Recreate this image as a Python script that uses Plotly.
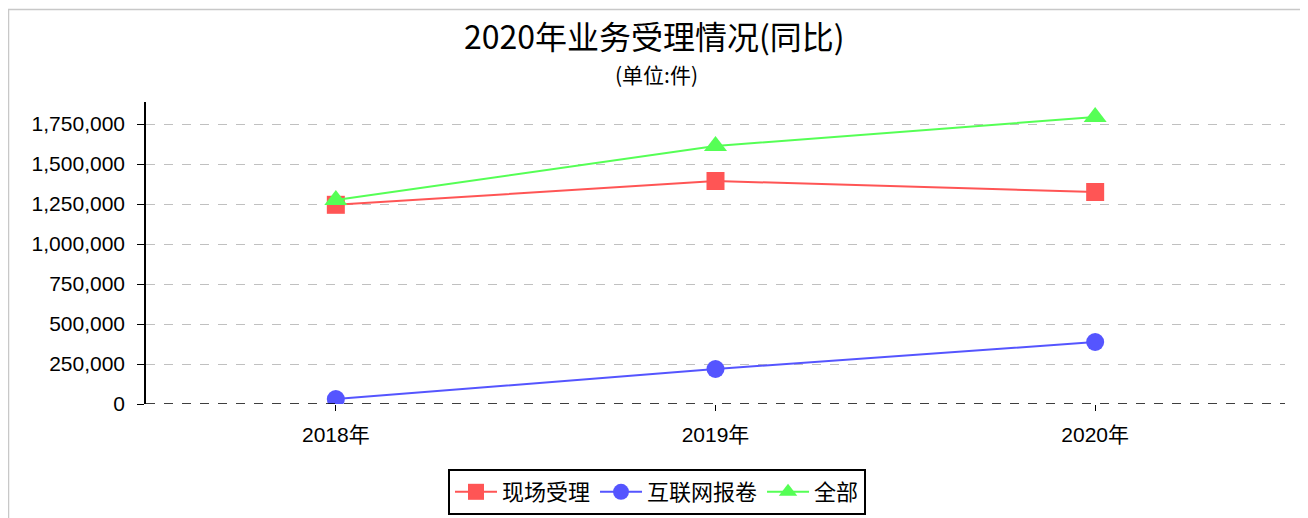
import plotly.graph_objects as go

years = ["2018年", "2019年", "2020年"]
onsite = [1245000, 1393750, 1325000]
online = [31000, 218750, 387500]
total = [1275000, 1612500, 1793750]
series_names = ["现场受理", "互联网报卷", "全部"]
y_ticks = [0, 250000, 500000, 750000, 1000000, 1250000, 1500000, 1750000]

FONT = "Liberation Sans, Arial, Noto Sans CJK SC, sans-serif"

# page body has 8px default margin; figure placed at (8,8)
W, H = 1300, 510
L, T, R, B = 138, 94, 23, 114
PW, PH = W - L - R, H - T - B

fig = go.Figure()
styles = [("#ff5555", "square", 18), ("#5555ff", "circle", 18), ("#55ff55", "triangle-up", 20)]
for name, vals, (col, sym, sz) in zip(series_names, [onsite, online, total], styles):
    fig.add_trace(go.Scatter(
        x=years, y=vals, name=name, mode="lines+markers",
        line=dict(color=col, width=2),
        marker=dict(symbol=sym, size=sz, color=col, line=dict(width=0)),
    ))

fig.update_layout(
    width=W, height=H,
    margin=dict(l=L, r=R, t=T, b=B, autoexpand=False),
    paper_bgcolor="white", plot_bgcolor="white",
    font=dict(family=FONT, size=21, color="black"),
    showlegend=True,
    legend=dict(
        orientation="h", x=(657 - 146) / PW, xanchor="center",
        yref="container", y=1 - 461 / H, yanchor="top",
        bordercolor="black", borderwidth=2, font=dict(size=22, family="Noto Sans CJK SC"),
        tracegroupgap=0, itemwidth=42,
    ),
    xaxis=dict(
        type="category", range=[-0.5, 2.5], showgrid=False, zeroline=False,
        showline=False, ticks="outside", ticklen=6, tickcolor="black",
        ticklabelstandoff=6, automargin=False,
        tickfont=dict(size=21, family="Liberation Sans, Noto Sans CJK SC"),
    ),
    yaxis=dict(
        range=[0, 1887500], tickvals=y_ticks, tickformat=",d", automargin=False,
        showgrid=True, gridcolor="#c0c0c0", griddash="dash", gridwidth=1,
        zeroline=False, showline=True, linecolor="black", linewidth=1.5,
        ticks="outside", ticklen=7, tickcolor="black", ticklabelstandoff=8,
        tickfont=dict(size=21),
    ),
    annotations=[
        dict(text="2020年业务受理情况(同比)", xref="paper", yref="paper",
             x=(654 - 146) / PW, y=(396 - 27) / PH, xanchor="center", yanchor="middle",
             showarrow=False, font=dict(size=32, family="Noto Sans CJK SC")),
        dict(text="(单位:件)", xref="paper", yref="paper",
             x=(656 - 146) / PW, y=(396 - 66) / PH, xanchor="center", yanchor="middle",
             showarrow=False, font=dict(size=21, family="Noto Sans CJK SC")),
    ],
    shapes=[
        dict(type="line", xref="paper", yref="y", x0=0, x1=1, y0=0, y1=0,
             line=dict(color="black", width=1.5, dash="dash"), layer="above"),
        dict(type="rect", xref="paper", yref="paper",
             x0=(0.5 - L) / PW, x1=(1298 - L) / PW,
             y0=(396 - 530) / PH, y1=(396 - 1.5) / PH,
             line=dict(color="#c8c8c8", width=1.5), layer="below"),
    ],
)

fig.write_html("out.html")
